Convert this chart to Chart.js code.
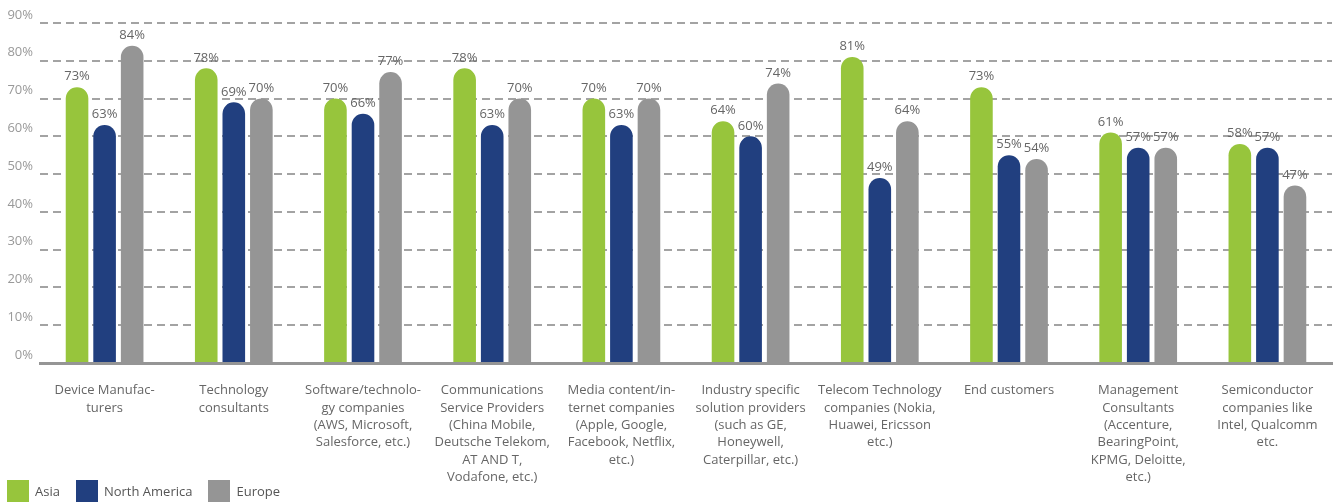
<!DOCTYPE html>
<html>
<head>
<meta charset="utf-8">
<script src="https://cdn.jsdelivr.net/npm/chart.js@4/dist/chart.umd.min.js"></script>
<style>
  html, body { margin: 0; padding: 0; background: #fff; }
  #wrap { position: relative; width: 1337px; height: 502px; }
  #legend { position: absolute; left: 7px; top: 480px; display: flex; font: 13px "Open Sans", sans-serif; color: #555; }
  #legend .item { display: flex; align-items: center; margin-right: 16px; }
  #legend .box { width: 22px; height: 22px; margin-right: 6px; }
</style>
</head>
<body>
<div id="wrap">
  <canvas id="chart"></canvas>
  <div id="legend"></div>
</div>
<script>
const categories = [
  ["Device Manufac-", "turers"],
  ["Technology", "consultants"],
  ["Software/technolo-", "gy companies", "(AWS, Microsoft,", "Salesforce, etc.)"],
  ["Communications", "Service Providers", "(China Mobile,", "Deutsche Telekom,", "AT AND T,", "Vodafone, etc.)"],
  ["Media content/in-", "ternet companies", "(Apple, Google,", "Facebook, Netflix,", "etc.)"],
  ["Industry specific", "solution providers", "(such as GE,", "Honeywell,", "Caterpillar, etc.)"],
  ["Telecom Technology", "companies (Nokia,", "Huawei, Ericsson", "etc.)"],
  ["End customers"],
  ["Management", "Consultants", "(Accenture,", "BearingPoint,", "KPMG, Deloitte,", "etc.)"],
  ["Semiconductor", "companies like", "Intel, Qualcomm", "etc."]
];
const seriesNames = ["Asia", "North America", "Europe"];
const asia = [73, 78, 70, 78, 70, 64, 81, 73, 61, 58];
const northAmerica = [63, 69, 66, 63, 63, 60, 49, 55, 57, 57];
const europe = [84, 70, 77, 70, 70, 74, 64, 54, 57, 47];
const colors = ["#97c53c", "#213f7f", "#959595"];

const datasets = [asia, northAmerica, europe].map((vals, i) => ({
  label: seriesNames[i],
  data: vals,
  backgroundColor: colors[i],
  borderWidth: 0,
  borderRadius: { topLeft: 12, topRight: 12, bottomLeft: 0, bottomRight: 0 },
  borderSkipped: 'bottom',
  categoryPercentage: 0.64,
  barPercentage: 0.82
}));

// percentage labels above each bar
const valueLabels = {
  id: 'valueLabels',
  afterDatasetsDraw(chart) {
    const ctx = chart.ctx;
    ctx.save();
    ctx.font = '13px "Open Sans", sans-serif';
    ctx.fillStyle = '#666';
    ctx.textAlign = 'center';
    ctx.textBaseline = 'bottom';
    chart.data.datasets.forEach((ds, i) => {
      chart.getDatasetMeta(i).data.forEach((bar, j) => {
        ctx.fillText(ds.data[j] + '%', bar.x, bar.y - 4);
      });
    });
    ctx.restore();
  }
};

new Chart(document.getElementById('chart'), {
  type: 'bar',
  data: { labels: categories, datasets: datasets },
  plugins: [valueLabels],
  options: {
    responsive: true,
    maintainAspectRatio: false,
    animation: false,
    layout: { padding: { top: 23, right: 5, left: 0, bottom: 0 } },
    plugins: {
      legend: { display: false },
      tooltip: { enabled: false }
    },
    scales: {
      x: {
        grid: { display: false },
        border: { display: true, color: '#959595', width: 3 },
        afterFit: s => { s.height = 139; },
        ticks: {
          autoSkip: false,
          maxRotation: 0,
          padding: 11,
          color: '#666',
          font: { family: 'Open Sans', size: 13, lineHeight: 1.33 }
        }
      },
      y: {
        min: 0,
        max: 90,
        afterFit: s => { s.width = 40; },
        grid: { color: '#a3a3a3', lineWidth: 2, drawTicks: false },
        border: { display: false, dash: [8, 5] },
        ticks: {
          stepSize: 10,
          padding: 7,
          labelOffset: -8,
          color: '#999',
          font: { family: 'Open Sans', size: 13 },
          callback: v => v + '%'
        }
      }
    }
  }
});

const legend = document.getElementById('legend');
seriesNames.forEach((name, i) => {
  const item = document.createElement('div');
  item.className = 'item';
  const box = document.createElement('span');
  box.className = 'box';
  box.style.background = colors[i];
  item.appendChild(box);
  item.appendChild(document.createTextNode(name));
  legend.appendChild(item);
});
</script>
</body>
</html>
